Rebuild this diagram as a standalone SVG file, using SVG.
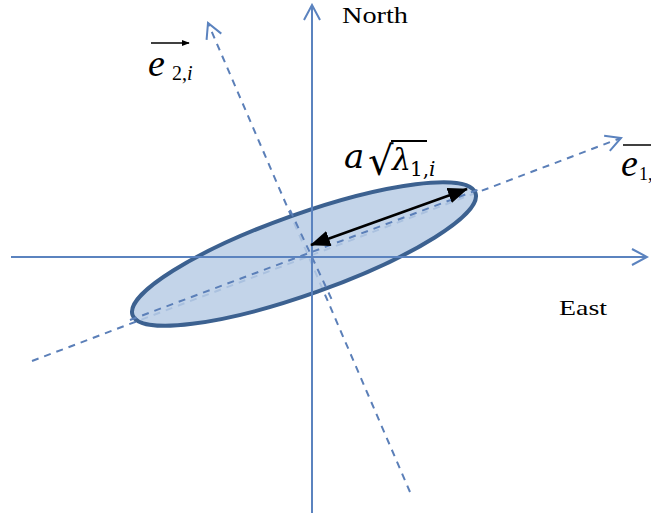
<svg xmlns="http://www.w3.org/2000/svg" width="651" height="513" viewBox="0 0 651 513">
<defs>
<marker id="open" viewBox="0 0 20 20" refX="18" refY="10" markerWidth="20" markerHeight="20" markerUnits="userSpaceOnUse" orient="auto">
<path d="M3 2 L18 10 L3 18" fill="none" stroke="#5B83BF" stroke-width="2"/>
</marker>
<marker id="blk" viewBox="0 0 20 16" refX="19" refY="8" markerWidth="20" markerHeight="16" markerUnits="userSpaceOnUse" orient="auto-start-reverse">
<path d="M0 0 L20 8 L0 16 Z" fill="#000"/>
</marker>
<marker id="small" viewBox="0 0 10 10" refX="9" refY="5" markerWidth="8" markerHeight="8" markerUnits="userSpaceOnUse" orient="auto">
<path d="M0 1 L10 5 L0 9 Z" fill="#000"/>
</marker>
</defs>
<style>
.axis{stroke:#5B83BF;stroke-width:2;fill:none}
.dash{stroke:#5B7FB8;stroke-width:2;fill:none;stroke-dasharray:7 6}
.lbl{font-family:"Liberation Serif",serif;fill:#000}
.math{font-family:"DejaVu Serif","Liberation Serif",serif;fill:#000}
</style>
<g id="connectors">
<line class="axis" x1="11" y1="257" x2="647" y2="257" marker-end="url(#open)"/>
<line class="axis" x1="312" y1="513" x2="312" y2="5" marker-end="url(#open)"/>
<line class="dash" x1="32" y1="361" x2="621" y2="138" marker-end="url(#open)"/>
<line class="dash" x1="410" y1="492" x2="208" y2="23" marker-end="url(#open)"/>
</g>
<g id="ellipse">
<ellipse cx="304" cy="254" rx="182" ry="40" transform="rotate(-19.6 304 254)" fill="#B9CDE5" fill-opacity="0.85" stroke="#3C6190" stroke-width="4"/>
<line class="dash" x1="130" y1="320" x2="480" y2="189"/>
<line class="dash" x1="290" y1="210" x2="332" y2="300"/>
<line x1="312" y1="200" x2="312" y2="300" class="axis"/>
<line x1="140" y1="257" x2="470" y2="257" class="axis"/>
<line x1="311" y1="245" x2="467" y2="189" stroke="#000" stroke-width="2.5" marker-start="url(#blk)" marker-end="url(#blk)"/>
</g>
<g id="north"><text class="lbl" x="342" y="23" font-size="24" textLength="66" lengthAdjust="spacingAndGlyphs">North</text></g>
<g id="east"><text class="lbl" x="559" y="315" font-size="22" textLength="48" lengthAdjust="spacingAndGlyphs">East</text></g>
<g id="e2">
<line x1="151" y1="43" x2="189" y2="43" stroke="#000" stroke-width="1.5" marker-end="url(#small)"/>
<text class="lbl" x="148" y="76" font-size="38" font-style="italic">e</text>
<text class="lbl" x="172" y="80" font-size="20">2,<tspan font-style="italic">i</tspan></text>
</g>
<g id="e1">
<line x1="623" y1="145" x2="651" y2="145" stroke="#000" stroke-width="1.5"/>
<text class="lbl" x="621" y="176" font-size="38" font-style="italic">e</text>
<text class="lbl" x="639" y="180" font-size="18">1,<tspan font-style="italic">i</tspan></text>
</g>
<g id="alabel">
<text class="math" x="344" y="168" font-size="34" font-style="italic">a</text>
<text class="math" x="368" y="175" font-size="40">√</text>
<line x1="391" y1="141" x2="427" y2="141" stroke="#000" stroke-width="2"/>
<text class="math" x="392" y="170" font-size="30" font-style="italic">λ</text>
<text class="math" x="410" y="176" font-size="20">1,<tspan font-style="italic">i</tspan></text>
</g>
</svg>
